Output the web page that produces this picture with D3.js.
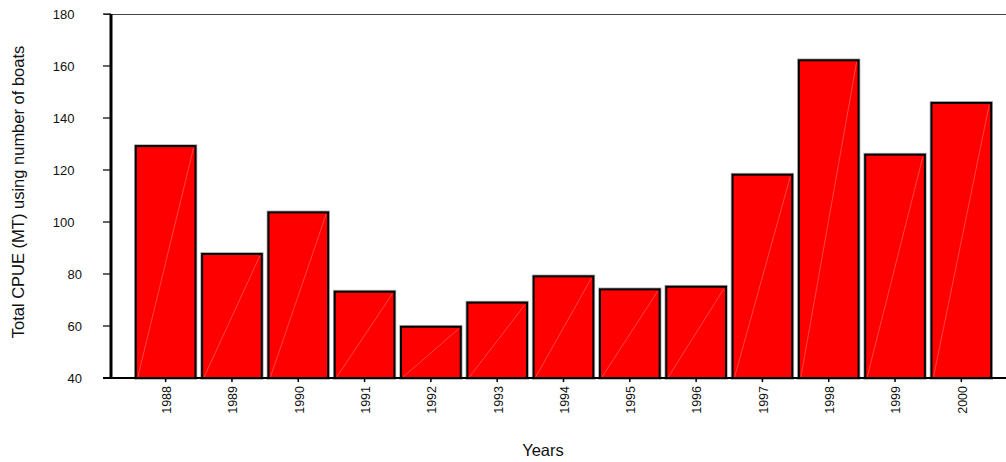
<!DOCTYPE html>
<html>
<head>
<meta charset="utf-8">
<script src="https://cdn.jsdelivr.net/npm/d3@7"></script>
<style>
  html, body { margin: 0; padding: 0; background: #fff; }
  svg { display: block; font-family: "Liberation Sans", Arial, sans-serif; }
</style>
</head>
<body>
<svg id="chart" width="1006" height="462"></svg>
<script>
const years = ["1988","1989","1990","1991","1992","1993","1994","1995","1996","1997","1998","1999","2000"];
const cpue = [129.2, 87.7, 103.7, 73.2, 59.7, 69.0, 79.1, 74.1, 75.1, 118.2, 162.2, 125.9, 145.8];
const yTicks = [40, 60, 80, 100, 120, 140, 160, 180];
const yLabel = "Total CPUE (MT) using number of boats";
const xLabel = "Years";

const svg = d3.select("#chart");
const W = 1006, H = 462;
const plotLeft = 111, plotRight = 1006, plotTop = 14, plotBottom = 378;

const y = d3.scaleLinear().domain([40, 180]).range([plotBottom, plotTop]);
const x = d3.scaleBand().domain(years).range([132.5, 994.5]).paddingInner(0.1).paddingOuter(0.05);

// top frame line
svg.append("line")
  .attr("x1", 104).attr("x2", plotRight).attr("y1", plotTop + 0.5).attr("y2", plotTop + 0.5)
  .attr("stroke", "#444").attr("stroke-width", 1.2);

// bars
const g = svg.append("g");
const bars = g.selectAll("g.bar").data(years.map((yr, i) => ({ yr, v: cpue[i] }))).join("g").attr("class", "bar");
bars.append("rect")
  .attr("x", d => x(d.yr)).attr("y", d => y(d.v))
  .attr("width", x.bandwidth()).attr("height", d => plotBottom - y(d.v))
  .attr("fill", "none").attr("stroke", "#aaa").attr("stroke-width", 3.6);
bars.append("rect")
  .attr("x", d => x(d.yr)).attr("y", d => y(d.v))
  .attr("width", x.bandwidth()).attr("height", d => plotBottom - y(d.v))
  .attr("fill", "#ff0000").attr("stroke", "#000").attr("stroke-width", 2);
bars.append("line")
  .attr("x1", d => x(d.yr) + 2).attr("y1", plotBottom - 1)
  .attr("x2", d => x(d.yr) + x.bandwidth() - 2).attr("y2", d => y(d.v) + 2)
  .attr("stroke", "rgba(255,210,210,0.55)").attr("stroke-width", 0.6);

// left axis
const yAxis = svg.append("g");
yAxis.append("line")
  .attr("x1", plotLeft).attr("x2", plotLeft).attr("y1", plotTop).attr("y2", plotBottom + 1)
  .attr("stroke", "#000").attr("stroke-width", 3);
yAxis.selectAll("line.tick").data(yTicks).join("line").attr("class", "tick")
  .attr("x1", 103).attr("x2", plotLeft).attr("y1", d => y(d)).attr("y2", d => y(d))
  .attr("stroke", "#000").attr("stroke-width", 1.2);
yAxis.selectAll("text").data(yTicks).join("text")
  .attr("x", d => String(d).length > 2 ? 74.5 : 82)
  .attr("y", d => y(d)).attr("dy", "0.35em")
  .attr("text-anchor", "end").attr("font-size", 13).attr("fill", "#111")
  .text(d => d);

// bottom axis
const xAxis = svg.append("g");
xAxis.append("line")
  .attr("x1", 103).attr("x2", plotRight).attr("y1", plotBottom).attr("y2", plotBottom)
  .attr("stroke", "#000").attr("stroke-width", 2);
xAxis.selectAll("line.tick").data(years).join("line").attr("class", "tick")
  .attr("x1", d => x(d) + x.bandwidth() / 2).attr("x2", d => x(d) + x.bandwidth() / 2)
  .attr("y1", plotBottom).attr("y2", plotBottom + 4)
  .attr("stroke", "#000").attr("stroke-width", 1.5);
xAxis.selectAll("text").data(years).join("text")
  .attr("transform", d => `translate(${x(d) + x.bandwidth() / 2 + 1},${plotBottom + 8}) rotate(-90)`)
  .attr("text-anchor", "end").attr("dy", "0.35em")
  .attr("font-size", 12.5).attr("fill", "#111")
  .text(d => d);

// axis titles
svg.append("text")
  .attr("transform", `translate(23.5,${192}) rotate(-90)`)
  .attr("text-anchor", "middle").attr("font-size", 16.5).attr("fill", "#111")
  .text(yLabel);
svg.append("text")
  .attr("x", 543).attr("y", 456)
  .attr("text-anchor", "middle").attr("font-size", 16.5).attr("fill", "#111")
  .text(xLabel);
</script>
</body>
</html>
